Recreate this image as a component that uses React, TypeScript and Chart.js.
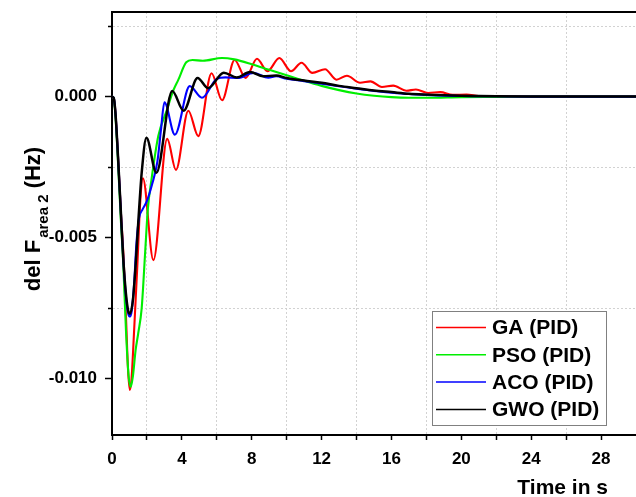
import React, { useEffect, useRef } from "react";
import { Chart, registerables } from "chart.js";

Chart.register(...registerables);

// ---- data ----
const seriesNames = ["GA (PID)", "PSO (PID)", "ACO (PID)", "GWO (PID)"];
const seriesColors = ["#ff0000", "#00ee00", "#0000ff", "#000000"];

const gaT = [0, 0.12, 0.3, 0.5, 0.67, 0.8, 0.92, 1.02, 1.12, 1.25, 1.45, 1.62, 1.77, 2.37, 3.16, 3.66, 4.37, 4.94, 5.7, 6.3, 7.02, 7.65, 8.3, 8.9, 9.58, 10.25, 10.85, 11.47, 12.2, 12.85, 13.45, 14.2, 14.8, 15.45, 16.1, 16.85, 17.4, 18.1, 18.8, 19.5, 20.3, 21, 22, 24, 30];
const gaV = [0, -0.0001, -0.0016, -0.004, -0.0058, -0.0078, -0.0097, -0.0104, -0.01, -0.0085, -0.006, -0.0037, -0.0029, -0.0058, -0.0015, -0.0026, -0.0005, -0.0014, 0.00083, -0.00013, 0.0013, 0.00066, 0.00134, 0.0009, 0.00137, 0.0009, 0.0012, 0.00084, 0.00097, 0.0006, 0.00074, 0.00049, 0.00054, 0.00034, 0.00039, 0.00021, 0.00025, 0.00013, 0.00016, 0.00006, 0.00007, 0.00002, 0.00001, 0, 0];

const psoT = [0, 0.1, 0.2, 0.35, 0.5, 0.65, 0.8, 0.95, 1.07, 1.2, 1.35, 1.5, 1.7, 1.9, 2.05, 2.27, 2.65, 3.13, 3.5, 3.8, 4.25, 4.6, 5.2, 6.3, 7.0, 8.0, 9.0, 10, 11, 12, 13, 14, 15, 16, 17, 18, 20, 22, 24, 30];
const psoV = [0, -0.00005, -0.0007, -0.0024, -0.0043, -0.006, -0.0083, -0.0099, -0.0103, -0.0099, -0.009, -0.0084, -0.0075, -0.0055, -0.004, -0.0029, -0.0014, -0.0005, 0.0002, 0.0006, 0.00122, 0.0013, 0.00127, 0.00137, 0.00132, 0.00115, 0.00095, 0.00076, 0.00056, 0.00038, 0.00023, 0.00011, 0.00003, -0.00002, -0.00004, -0.00004, -0.00002, -0.00001, 0, 0];

const acoT = [0, 0.1, 0.2, 0.35, 0.5, 0.65, 0.8, 0.93, 1.03, 1.13, 1.27, 1.4, 1.55, 1.75, 2.0, 2.3, 2.6, 2.8, 3.0, 3.6, 4.45, 5.15, 6.0, 6.5, 7.2, 8.1, 8.95, 9.4, 10, 11, 12, 13, 14, 15, 16, 17, 18, 20, 22, 24, 30];
const acoV = [0, -0.00005, -0.0006, -0.0022, -0.004, -0.0058, -0.0071, -0.0077, -0.0078, -0.0076, -0.0066, -0.0052, -0.0043, -0.004, -0.0037, -0.0031, -0.0023, -0.0012, -0.0002, -0.00135, 0.00037, -0.00004, 0.00063, 0.00068, 0.00066, 0.00084, 0.00067, 0.00072, 0.00063, 0.00055, 0.00046, 0.00037, 0.00028, 0.0002, 0.00014, 0.00009, 0.00006, 0.00002, 0.00001, 0, 0];

const gwoT = [0, 0.1, 0.2, 0.35, 0.5, 0.65, 0.8, 0.93, 1.03, 1.2, 1.35, 1.5, 1.7, 1.97, 2.54, 3.45, 4.1, 4.9, 5.5, 6.4, 7.14, 7.9, 8.65, 9.4, 10, 11, 12, 13, 14, 15, 16, 17, 18, 20, 22, 24, 30];
const gwoV = [0, -0.00005, -0.0006, -0.0022, -0.004, -0.0058, -0.007, -0.0076, -0.0077, -0.0072, -0.006, -0.0045, -0.0027, -0.00146, -0.0027, 0.0002, -0.0005, 0.00066, 0.0003, 0.00085, 0.00068, 0.00087, 0.00072, 0.00075, 0.00066, 0.00057, 0.00049, 0.00038, 0.0003, 0.00022, 0.00016, 0.0001, 0.00007, 0.00003, 0.00001, 0, 0];

const xTicks = [0, 2, 4, 6, 8, 10, 12, 14, 16, 18, 20, 22, 24, 26, 28];
const xLabeled = [0, 4, 8, 12, 16, 20, 24, 28];
const yTicks = [-0.01, -0.0075, -0.005, -0.0025, 0, 0.0025];
const yMajor = [-0.01, -0.005, 0];
const yMajorLabels = ["-0.010", "-0.005", "0.000"];

const X_MIN = 0, X_MAX = 30, Y_MIN = -0.012, Y_MAX = 0.003;
const FONT = "'Liberation Sans', Arial, Helvetica, sans-serif";

const near = (a: number, b: number) => Math.abs(a - b) < 1e-9;
const isYMajor = (v: number) => yMajor.some((m) => near(m, v));
const isXMajor = (v: number) => xLabeled.some((m) => near(m, v));

const zip = (t: number[], v: number[]) => t.map((x, i) => ({ x, y: v[i] }));

const decorPlugin = {
  id: "decor",
  afterDraw(chart: any) {
    const { ctx, chartArea, scales } = chart;
    const ys = scales.y;
    ctx.save();
    // top frame line
    ctx.strokeStyle = "#000";
    ctx.lineWidth = 2;
    ctx.beginPath();
    ctx.moveTo(chartArea.left - 1, chartArea.top);
    ctx.lineTo(chartArea.right, chartArea.top);
    ctx.stroke();
    // minor y ticks (shorter)
    ctx.lineWidth = 1.5;
    yTicks.filter((v) => !isYMajor(v)).forEach((v) => {
      const py = Math.round(ys.getPixelForValue(v)) + 0.5;
      ctx.beginPath();
      ctx.moveTo(chartArea.left - 4, py);
      ctx.lineTo(chartArea.left, py);
      ctx.stroke();
    });
    // y title
    ctx.fillStyle = "#000";
    ctx.textBaseline = "alphabetic";
    const mainFont = `bold 22px ${FONT}`;
    const subFont = `bold 15px ${FONT}`;
    const p1 = "del F", sub = "area 2", p2 = " (Hz)";
    ctx.font = mainFont;
    const w1 = ctx.measureText(p1).width + 2;
    const w3 = ctx.measureText(p2).width;
    ctx.font = subFont;
    const w2 = ctx.measureText(sub).width;
    const W = w1 + w2 + w3;
    ctx.save();
    ctx.translate(39.5, 219);
    ctx.rotate(-Math.PI / 2);
    ctx.textAlign = "left";
    ctx.font = mainFont;
    ctx.fillText(p1, -W / 2, 0);
    ctx.font = subFont;
    ctx.fillText(sub, -W / 2 + w1, 8);
    ctx.font = mainFont;
    ctx.fillText(p2, -W / 2 + w1 + w2, 0);
    ctx.restore();
    // x title
    ctx.font = `bold 21px ${FONT}`;
    ctx.textAlign = "right";
    ctx.fillText("Time in s", 608, 494);
    // legend
    ctx.fillStyle = "#fff";
    ctx.fillRect(432.5, 311.5, 174, 114);
    ctx.strokeStyle = "#808080";
    ctx.lineWidth = 1;
    ctx.strokeRect(432.5, 311.5, 174, 114);
    ctx.textAlign = "left";
    ctx.textBaseline = "middle";
    ctx.font = `bold 21px ${FONT}`;
    seriesNames.forEach((name, i) => {
      const y = 327.5 + i * 27.3;
      ctx.strokeStyle = seriesColors[i];
      ctx.lineWidth = 1.5;
      ctx.beginPath();
      ctx.moveTo(436, y);
      ctx.lineTo(486, y);
      ctx.stroke();
      ctx.fillStyle = "#000";
      ctx.fillText(name, 492, y + 1);
    });
    ctx.restore();
  },
};

export default function App() {
  const ref = useRef<HTMLCanvasElement | null>(null);
  useEffect(() => {
    document.body.style.margin = "0";
    const series = [
      zip(gaT, gaV),
      zip(psoT, psoV),
      zip(acoT, acoV),
      zip(gwoT, gwoV),
    ];
    const chart = new Chart(ref.current as HTMLCanvasElement, {
      type: "line",
      data: {
        datasets: series.map((d, i) => ({
          label: seriesNames[i],
          data: d,
          borderColor: seriesColors[i],
          backgroundColor: seriesColors[i],
          borderWidth: i === 3 ? 2.5 : 2.1,
          pointRadius: 0,
          fill: false,
          cubicInterpolationMode: "monotone" as const,
          order: 4 - i,
        })),
      },
      options: {
        animation: false,
        responsive: false,
        devicePixelRatio: 1,
        layout: { padding: { top: 12, left: 0, right: 0, bottom: 0 } },
        plugins: { legend: { display: false }, tooltip: { enabled: false } },
        scales: {
          x: {
            type: "linear",
            min: X_MIN,
            max: X_MAX,
            afterFit: (s: any) => { s.height = 62; s.paddingLeft = 0; s.paddingRight = 0; },
            afterBuildTicks: (s: any) => { s.ticks = xTicks.map((v) => ({ value: v })); },
            ticks: {
              autoSkip: false,
              maxRotation: 0,
              padding: 9,
              color: "#000",
              font: { family: FONT, size: 17, weight: "bold" },
              callback: (v: any) => (isXMajor(Number(v)) ? String(v) : ""),
            },
            grid: {
              color: (c: any) => (c.tick && isXMajor(c.tick.value) ? "rgba(0,0,0,0)" : "#d2d2d2"),
              lineWidth: 1,
              tickLength: 5,
              tickColor: "#000",
              tickWidth: 1.5,
            },
            border: { display: true, color: "#000", width: 2, dash: [2, 2] },
          },
          y: {
            type: "linear",
            min: Y_MIN,
            max: Y_MAX,
            afterFit: (s: any) => { s.width = 112; s.paddingTop = 0; s.paddingBottom = 0; },
            afterBuildTicks: (s: any) => { s.ticks = yTicks.map((v) => ({ value: v })); },
            ticks: {
              autoSkip: false,
              padding: 8,
              color: "#000",
              font: { family: FONT, size: 17, weight: "bold" },
              callback: (v: any) => {
                const idx = yMajor.findIndex((m) => near(m, Number(v)));
                return idx >= 0 ? yMajorLabels[idx] : "";
              },
            },
            grid: {
              color: (c: any) => (c.tick && isYMajor(c.tick.value) ? "rgba(0,0,0,0)" : "#d2d2d2"),
              lineWidth: 1,
              tickLength: 7,
              tickColor: (c: any) => (c.tick && isYMajor(c.tick.value) ? "#000" : "rgba(0,0,0,0)"),
              tickWidth: 1.5,
            },
            border: { display: true, color: "#000", width: 2, dash: [2, 2] },
          },
        },
      },
      plugins: [decorPlugin],
    } as any);
    return () => chart.destroy();
  }, []);
  return (
    <div style={{ position: "fixed", left: 0, top: 0, width: 636, height: 497 }}>
      <canvas ref={ref} width={636} height={497} style={{ display: "block" }} />
    </div>
  );
}
